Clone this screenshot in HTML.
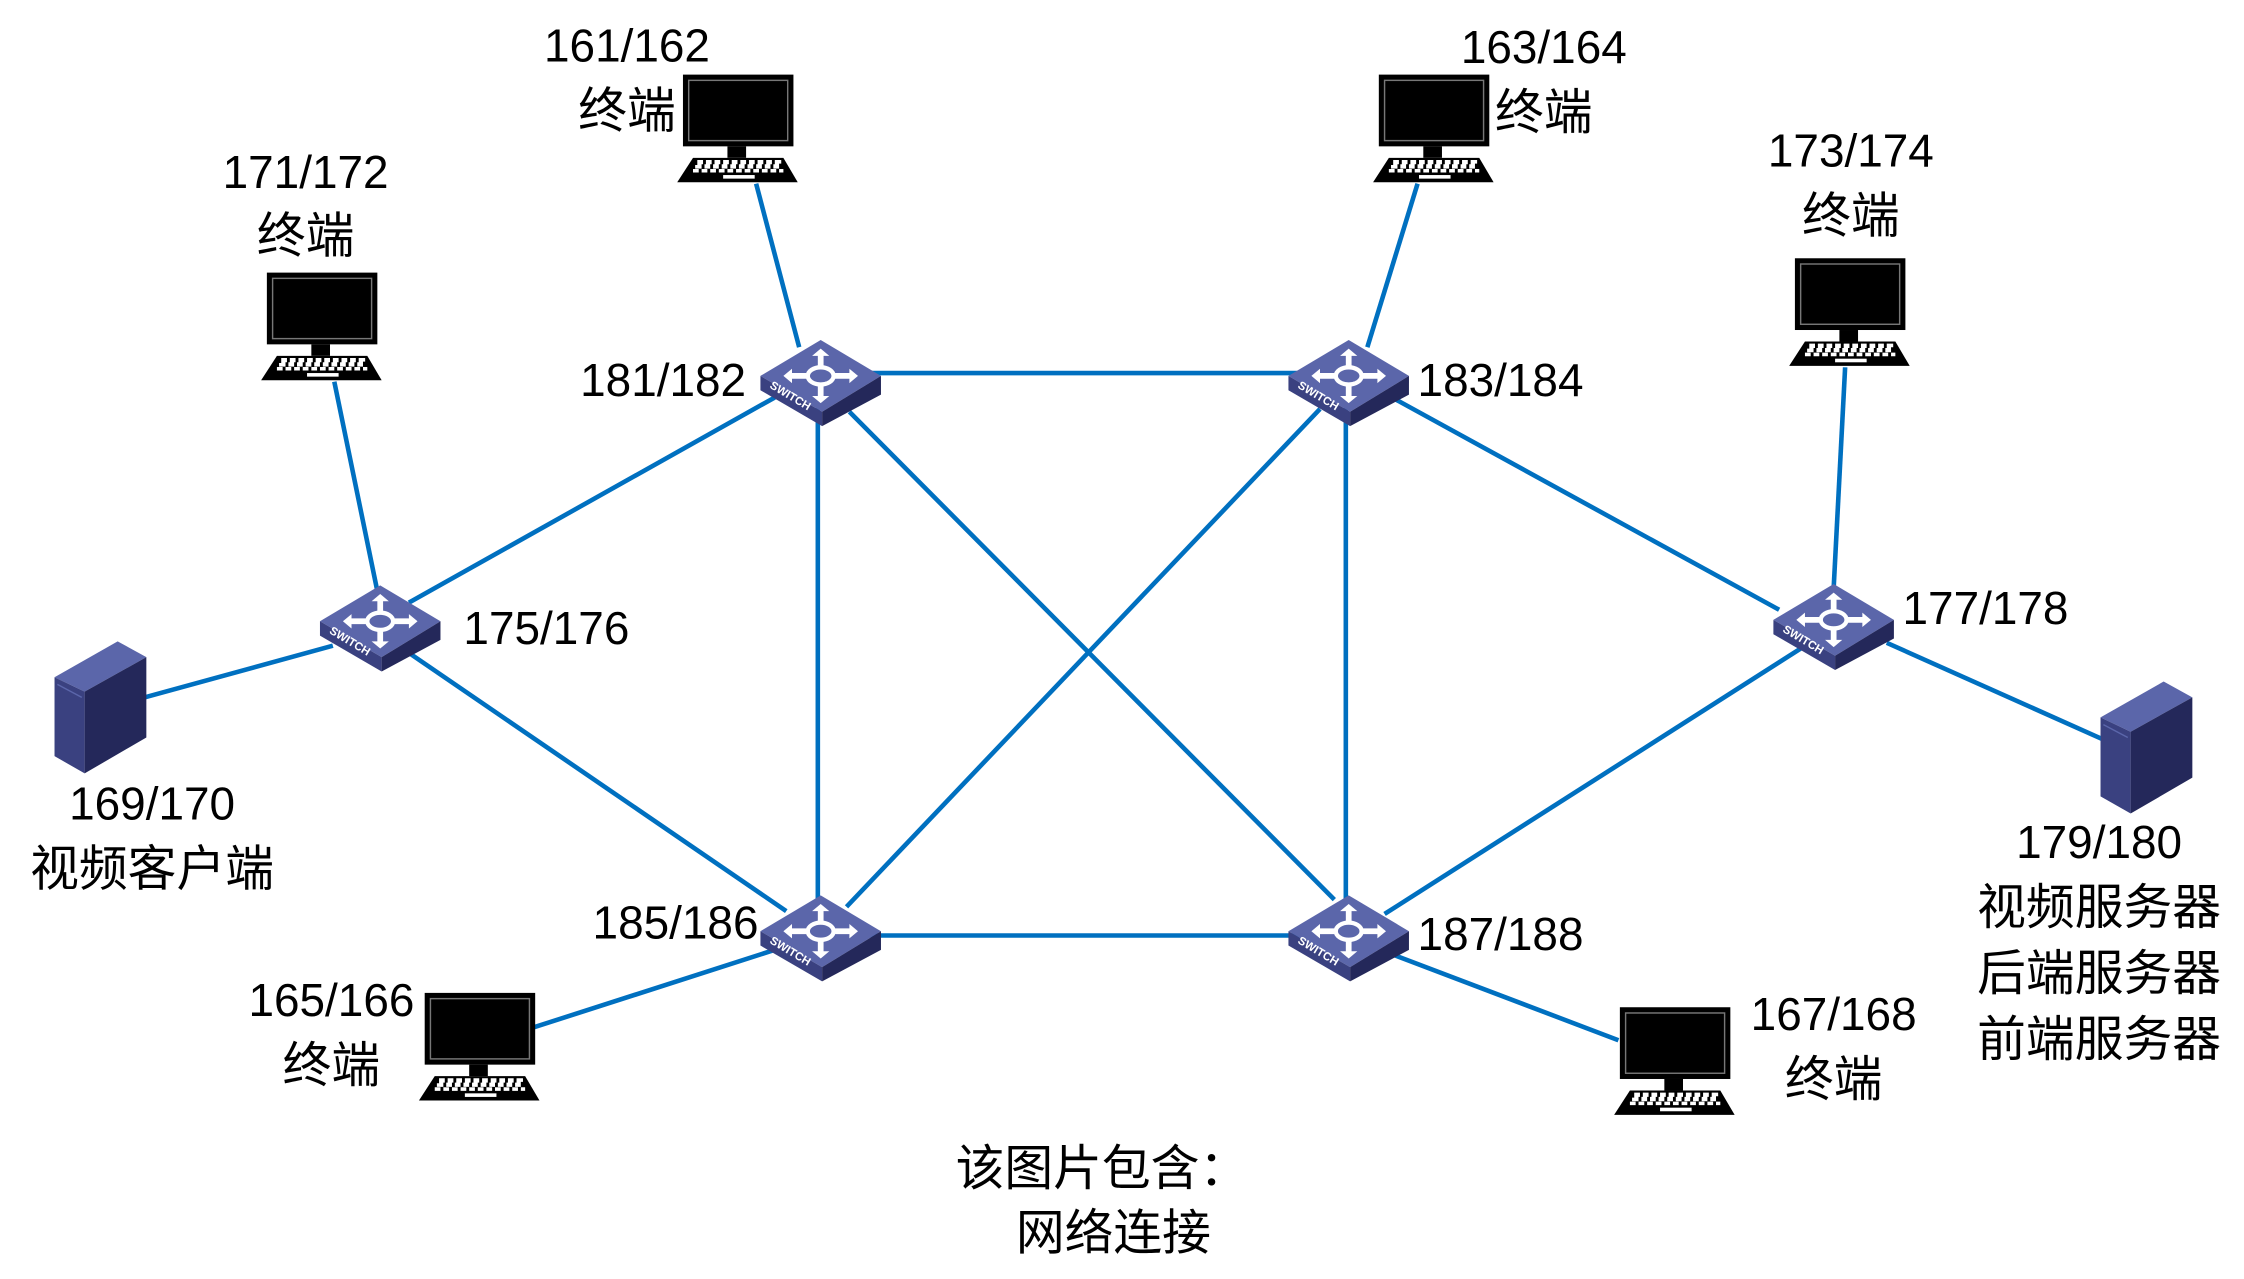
<!DOCTYPE html>
<html><head><meta charset="utf-8"><style>
html,body{margin:0;padding:0;background:#fff;}
svg{display:block;}
text{font-family:"Liberation Sans","Noto Sans CJK SC",sans-serif;font-size:32px;fill:#000;}
text.c{font-size:34px;}
</style></head><body>
<svg width="2244" height="1279" viewBox="0 0 1564 891.4" preserveAspectRatio="none" xmlns="http://www.w3.org/2000/svg">
<defs>
<g id="sw">
<polygon points="0,25 42,0 84,25 43,50" fill="#5b66aa"/>
<polygon points="0,25 43,50 43,60 0,35" fill="#3a4180"/>
<polygon points="43,50 84,25 84,38 43,60" fill="#24285a"/>
<g fill="#fff" stroke="none">
<ellipse cx="42" cy="25" rx="9" ry="6" fill="none" stroke="#fff" stroke-width="3"/>
<polygon points="42,6 36,11 40,11 40,18 44,18 44,11 48,11"/>
<polygon points="42,44 36,39 40,39 40,32 44,32 44,39 48,39"/>
<polygon points="16,25 22,20 22,23 32,23 32,27 22,27 22,30"/>
<polygon points="68,25 62,20 62,23 52,23 52,27 62,27 62,30"/>
</g>
<text x="0" y="0" transform="translate(6,33) rotate(31)" style="font-size:8px;fill:#fff;font-weight:bold">SWITCH</text>
</g>
<g id="pc">
<rect x="0" y="0" width="77" height="50" fill="#000"/>
<rect x="4" y="4" width="69" height="42" fill="none" stroke="#777" stroke-width="1"/>
<rect x="31" y="50" width="13" height="8" fill="#000"/>
<polygon points="7,58 70,58 80,75 -4,75" fill="#000"/>
<g fill="#fff">
<rect x="10" y="61" width="57" height="3" fill="none" stroke="#fff" stroke-dasharray="4,2" stroke-width="3"/>
<line x1="7" y1="67" x2="70" y2="67" stroke="#fff" stroke-width="2.5" stroke-dasharray="4,2"/>
<rect x="28" y="70" width="22" height="2.5"/>
</g>
</g>
<g id="srv">
<polygon points="38,472 82,447 102,458 59,482" fill="#5b66aa"/>
<polygon points="38,472 59,482 59,539 38,527" fill="#3a4180"/>
<polygon points="59,482 102,458 102,514 59,539" fill="#24285a"/>
<line x1="40" y1="477" x2="57" y2="486" stroke="#5b66aa" stroke-width="1"/>
</g>
</defs>
<g stroke="#0070c0" stroke-width="3.2" fill="none">
<line x1="527" y1="128" x2="557" y2="242"/>
<line x1="988" y1="128" x2="953" y2="242"/>
<line x1="233" y1="266" x2="263" y2="412"/>
<line x1="1286" y1="256" x2="1278" y2="410"/>
<line x1="101" y1="486" x2="232" y2="450"/>
<line x1="1465" y1="515" x2="1315" y2="448"/>
<line x1="372" y1="716" x2="540" y2="662"/>
<line x1="1128" y1="725" x2="970" y2="665"/>
<line x1="600" y1="260" x2="910" y2="260"/>
<line x1="600" y1="652" x2="910" y2="652"/>
<line x1="570" y1="280" x2="570" y2="630"/>
<line x1="938" y1="280" x2="938" y2="630"/>
<line x1="592" y1="287" x2="930" y2="627"/>
<line x1="920" y1="285" x2="590" y2="632"/>
<line x1="285" y1="420" x2="540" y2="277"/>
<line x1="285" y1="455" x2="548" y2="635"/>
<line x1="972" y1="278" x2="1240" y2="425"/>
<line x1="965" y1="637" x2="1255" y2="452"/>
</g>
<use href="#sw" x="530" y="237"/>
<use href="#sw" x="898" y="237"/>
<use href="#sw" x="223" y="408"/>
<use href="#sw" x="1236" y="407"/>
<use href="#sw" x="530" y="624"/>
<use href="#sw" x="898" y="624"/>
<use href="#pc" x="476" y="52"/>
<use href="#pc" x="961" y="52"/>
<use href="#pc" x="186" y="190"/>
<use href="#pc" x="1251" y="180"/>
<use href="#pc" x="296" y="692"/>
<use href="#pc" x="1129" y="702"/>
<use href="#srv" x="0" y="0"/>
<use href="#srv" x="1426" y="28"/>
<g text-anchor="middle">
<text x="437" y="43">161/162</text><text class="c" x="437" y="89">终端</text>
<text x="1076" y="44">163/164</text><text class="c" x="1076" y="90">终端</text>
<text x="213" y="131">171/172</text><text class="c" x="213" y="176">终端</text>
<text x="1290" y="116">173/174</text><text class="c" x="1290" y="162">终端</text>
<text x="106" y="571">169/170</text><text class="c" x="106" y="617">视频客户端</text>
<text x="231" y="708">165/166</text><text class="c" x="231" y="754">终端</text>
<text x="1278" y="718">167/168</text><text class="c" x="1278" y="764">终端</text>
<text x="1463" y="598">179/180</text>
<text class="c" x="1463" y="644">视频服务器</text>
<text class="c" x="1463" y="690">后端服务器</text>
<text class="c" x="1463" y="736">前端服务器</text>
<text class="c" x="768" y="826">该图片包含：</text>
<text class="c" x="776" y="871">网络连接</text>
</g>
<text x="520" y="276" text-anchor="end">181/182</text>
<text x="988" y="276">183/184</text>
<text x="323" y="449">175/176</text>
<text x="1326" y="435">177/178</text>
<text x="413" y="654">185/186</text>
<text x="988" y="662">187/188</text>
</svg>
</body></html>
